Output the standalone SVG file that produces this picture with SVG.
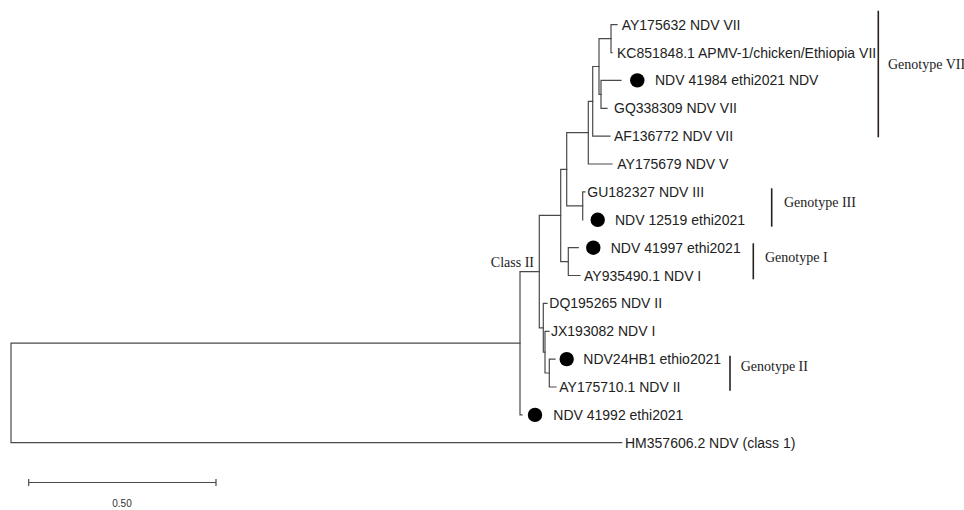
<svg xmlns="http://www.w3.org/2000/svg" width="964" height="510" viewBox="0 0 964 510">
<style>
  .br { stroke: #4a4a4a; stroke-width: 1.2; fill: none; stroke-linecap: square; }
  .bar { stroke: #2a2020; stroke-width: 1.6; fill: none; }
  .lbl { font-family: "Liberation Sans", Arial, sans-serif; font-size: 14px; fill: #222; }
  .gt { font-family: "Liberation Serif", "Times New Roman", serif; font-size: 14px; fill: #222; }
  .dot { fill: #000; }
  .sc { font-family: "Liberation Sans", Arial, sans-serif; font-size: 10px; fill: #333; }
</style>
<rect width="964" height="510" fill="#fff"/>
<g id="connectors" class="br">
  <path d="M11 343.2 V442.7 M11 343.2 H520 M11 442.7 H621.7"/>
  <path d="M520 271.6 V414.9 M520 414.9 H522 M520 271.6 H539.3"/>
  <path d="M539.3 215.4 V327.8 M539.3 215.4 H560.7 M539.3 327.8 H543.3"/>
  <path d="M560.7 169.3 V261.6 M560.7 169.3 H566.7 M560.7 261.6 H568.3"/>
  <path d="M566.7 132.7 V205.9 M566.7 132.7 H588.3 M566.7 205.9 H582.7"/>
  <path d="M588.3 101.3 V164 M588.3 101.3 H592.7 M588.3 164 H612"/>
  <path d="M592.7 66.5 V136.2 M592.7 66.5 H599 M592.7 136.2 H610"/>
  <path d="M599 38.6 V94.4 M599 38.6 H611 M599 94.4 H601"/>
  <path d="M611 24.7 V52.6 M611 24.7 H617 M611 52.6 H612"/>
  <path d="M601 80.4 V108.3 M601 80.4 H621 M601 108.3 H607"/>
  <path d="M582.7 191.9 V219.8 M582.7 191.9 H585"/>
  <path d="M568.3 247.7 V275.5 M568.3 247.7 H578.3 M568.3 275.5 H580"/>
  <path d="M543.3 303.4 V352.2 M543.3 303.4 H547 M543.3 352.2 H545"/>
  <path d="M545 331.3 V373 M545 331.3 H549 M545 373 H549.3"/>
  <path d="M549.3 359.1 V387 M549.3 359.1 H555 M549.3 387 H556"/>
</g>
<g id="n-AY175632"><text class="lbl" x="621.7" y="29.7">AY175632 NDV VII</text></g>
<g id="n-KC851848"><text class="lbl" x="617" y="57.6">KC851848.1 APMV-1/chicken/Ethiopia VII</text></g>
<g id="n-41984"><circle class="dot" cx="637.3" cy="80.4" r="7.2"/><text class="lbl" x="655" y="85.4">NDV 41984 ethi2021 NDV</text></g>
<g id="n-GQ338309"><text class="lbl" x="614" y="113.3">GQ338309 NDV VII</text></g>
<g id="n-AF136772"><text class="lbl" x="614" y="141.2">AF136772 NDV VII</text></g>
<g id="n-AY175679"><text class="lbl" x="617.3" y="169">AY175679 NDV V</text></g>
<g id="n-GU182327"><text class="lbl" x="587.3" y="196.9">GU182327 NDV III</text></g>
<g id="n-12519"><circle class="dot" cx="597.7" cy="219.8" r="7.2"/><text class="lbl" x="615" y="224.8">NDV 12519 ethi2021</text></g>
<g id="n-41997"><circle class="dot" cx="593.3" cy="247.7" r="7.2"/><text class="lbl" x="610.7" y="252.7">NDV 41997 ethi2021</text></g>
<g id="n-AY935490"><text class="lbl" x="584" y="280.5">AY935490.1 NDV I</text></g>
<g id="n-DQ195265"><text class="lbl" x="549.3" y="308.4">DQ195265 NDV II</text></g>
<g id="n-JX193082"><text class="lbl" x="551" y="336.3">JX193082 NDV I</text></g>
<g id="n-NDV24HB1"><circle class="dot" cx="566.7" cy="359.1" r="7.2"/><text class="lbl" x="583.3" y="364.1">NDV24HB1 ethio2021</text></g>
<g id="n-AY175710"><text class="lbl" x="559.3" y="392">AY175710.1 NDV II</text></g>
<g id="n-41992"><circle class="dot" cx="535" cy="414.9" r="7.2"/><text class="lbl" x="553.3" y="419.9">NDV 41992 ethi2021</text></g>
<g id="n-HM357606"><text class="lbl" x="625" y="447.7">HM357606.2 NDV (class 1)</text></g>
<g id="n-classII"><text class="gt" x="534" y="267" text-anchor="end">Class II</text></g>
<g id="g-VII"><path class="bar" d="M878.3 10.7 V137.3"/><text class="gt" x="888" y="69">Genotype VII</text></g>
<g id="g-III"><path class="bar" d="M771.7 188.3 V226.7"/><text class="gt" x="784" y="207">Genotype III</text></g>
<g id="g-I"><path class="bar" d="M753.3 243.3 V279.3"/><text class="gt" x="765" y="262">Genotype I</text></g>
<g id="g-II"><path class="bar" d="M730 355.7 V390.7"/><text class="gt" x="740.7" y="371">Genotype II</text></g>
<g id="scale">
  <path class="br" d="M28.7 482.5 H216 M28.7 479.5 V485.5 M216 479.5 V485.5"/>
  <text class="sc" x="122" y="507" text-anchor="middle">0.50</text>
</g>
</svg>
